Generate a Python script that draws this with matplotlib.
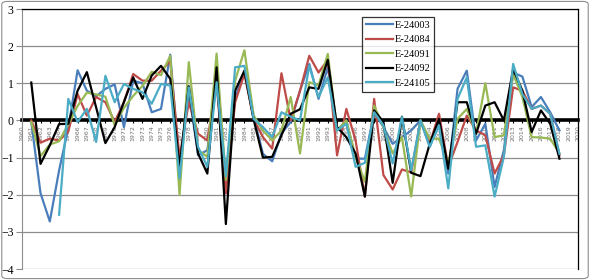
import numpy as np
import matplotlib
matplotlib.use("Agg")
import matplotlib.pyplot as plt
from matplotlib.patches import FancyBboxPatch

# -----------------------------------------------------------------------------
# Data, one value per year from 1961
# -----------------------------------------------------------------------------
years = list(range(1961, 2019))
tick_years = list(range(1960, 2021))

e24003 = [-0.04, -1.96, -2.72, -1.35, -0.2, 1.35, 0.8, 0.65, 0.85, 0.97,
          -0.18, 1.07, 1.0, 0.22, 0.31, 1.77, -1.3, 0.8, -0.94, -0.8,
          1.0, -1.43, 0.6, 1.3, 0.1, -0.9, -1.1, -0.35, -0.04, 0.8,
          1.52, 0.58, 1.43, -0.27, 0.0, -1.03, -1.03, 0.22, -0.18, -0.63,
          -0.45, -0.27, 0.0, -0.71, -0.09, -1.43, 0.85, 1.34, -0.54, -0.09,
          -1.79, -0.8, 1.29, 1.18, 0.36, 0.63, 0.22, -0.27]
e24084 = [0.0, -0.6, -0.49, -0.54, -0.3, 0.71, 0.13, 0.63, 0.49, -0.04,
          0.49, 1.25, 1.07, 1.07, 1.34, 1.59, -1.0, 0.49, -0.36, -0.54,
          1.0, -1.96, 0.49, 1.25, 0.04, -0.45, -0.76, 1.27, 0.0, 0.8,
          1.74, 1.29, 1.63, -0.94, 0.31, -0.54, -2.05, 0.58, -1.47, -1.86,
          -1.32, -1.4, 0.0, -0.63, 0.18, -1.25, -0.58, 0.13, -0.27, -0.4,
          -1.43, -0.94, 0.89, 0.8, 0.31, 0.4, 0.18, -0.94]
e24091 = [-0.04, -0.96, -0.65, -0.56, -0.1, 0.39, 0.75, 0.7, 0.64, -0.13,
          0.34, 0.66, 0.93, 1.31, 1.22, 1.74, -2.0, 1.57, -0.8, -0.98,
          1.8, -1.6, 1.07, 1.89, 0.13, -0.27, -0.54, -0.27, 0.63, -0.89,
          1.03, 0.94, 1.79, -0.27, 0.0, -0.98, -1.65, 0.4, -0.18, -0.89,
          -0.45, -2.05, 0.0, -0.49, -0.49, -1.16, 0.04, 0.31, -0.36, 1.0,
          -0.45, -0.4, 1.25, 0.63, -0.45, -0.46, -0.49, -0.89]
e24092 = [1.02, -1.17, -0.67, -0.1, -0.09, 0.8, 1.3, 0.35, -0.61, -0.18,
          0.5, 1.16, 0.58, 1.21, 1.47, 1.12, -1.25, 0.92, -0.89, -1.43,
          1.43, -2.79, 0.8, 1.34, 0.02, -1.0, -0.98, -0.4, 0.18, 0.3,
          0.89, 0.85, 1.63, -0.18, -0.45, -0.89, -2.05, 0.27, -0.04, -1.68,
          0.1, -1.41, -1.5, -0.63, 0.04, -1.3, 0.49, 0.49, -0.36, 0.4,
          0.49, 0.0, 1.38, 0.8, -0.31, 0.27, -0.09, -1.03]
e24105 = [np.nan, np.nan, np.nan, -2.54, 0.58, -0.04, 0.31, -0.58, 1.2, 0.49,
          0.98, 0.85, 0.76, 0.45, 0.98, 0.94, -1.56, 0.89, -0.71, -1.25,
          1.03, -1.5, 1.43, 1.47, 0.04, -0.18, -0.45, 0.22, 0.1, 0.0,
          1.47, 0.63, 1.16, -0.27, -0.09, -1.25, -1.14, 0.22, -0.13, -1.16,
          0.09, -1.34, 0.0, -0.71, -0.13, -1.83, 0.58, 1.16, -0.71, -0.67,
          -2.05, -0.98, 1.52, 0.71, 0.31, 0.4, 0.18, -0.9]

series_names = ['E-24003', 'E-24084', 'E-24091', 'E-24092', 'E-24105']
series_colors = ['#4A7EBB', '#BE4B48', '#98B954', '#000000', '#4BACC6']


def main():
    fig = plt.figure(figsize=(5.9, 2.8), dpi=100)

    # outer chart border (Excel style rounded frame)
    frame = FancyBboxPatch((0.003, 0.005), 0.994, 0.99,
                           boxstyle="round,pad=0,rounding_size=0.01",
                           transform=fig.transFigure, fill=False,
                           edgecolor='#8c8c8c', lw=0.8)
    fig.patches.append(frame)

    ax = fig.add_axes([22 / 590, 11 / 280, 556 / 590, 260 / 280])

    all_series = [e24003, e24084, e24091, e24092, e24105]
    for vals, name, col in zip(all_series, series_names, series_colors):
        ax.plot(years, vals, color=col, lw=1.6, label=name)

    ax.set_xlim(1960, 2020)
    ax.set_ylim(-4, 3)
    ax.set_yticks(range(-4, 4))
    ax.yaxis.grid(True, color='#8c8c8c', lw=0.9)
    ax.set_axisbelow(True)

    # category axis crosses at zero
    ax.spines['bottom'].set_position(('data', 0))
    ax.spines['bottom'].set_linewidth(2.6)
    ax.spines['bottom'].set_zorder(1.5)
    ax.spines['left'].set_color('#8c8c8c')
    ax.spines['top'].set_linewidth(0.9)
    ax.spines['right'].set_linewidth(0.9)

    ax.set_xticks(tick_years)
    ax.set_xticklabels([str(y) for y in tick_years], rotation=90,
                       fontsize=4.5, color='#707070', family='DejaVu Sans')
    ax.tick_params(axis='x', direction='out', length=2.5, width=0.8,
                   pad=1, color='black')
    ax.tick_params(axis='y', direction='out', length=4, width=0.8,
                   color='#8c8c8c', pad=2, labelsize=8.5)
    for lbl in ax.get_yticklabels():
        lbl.set_family('Liberation Serif')

    leg = ax.legend(loc='upper left', bbox_to_anchor=(340 / 556, 1 - 8 / 260),
                    prop={'family': 'Liberation Serif', 'size': 7.5},
                    frameon=True, fancybox=False, edgecolor='black',
                    handlelength=2.6, handletextpad=0.15, borderpad=0.35,
                    labelspacing=0.5, borderaxespad=0)
    leg.get_frame().set_linewidth(0.9)

    plt.savefig('out.png', dpi=100)


if __name__ == "__main__":
    main()
